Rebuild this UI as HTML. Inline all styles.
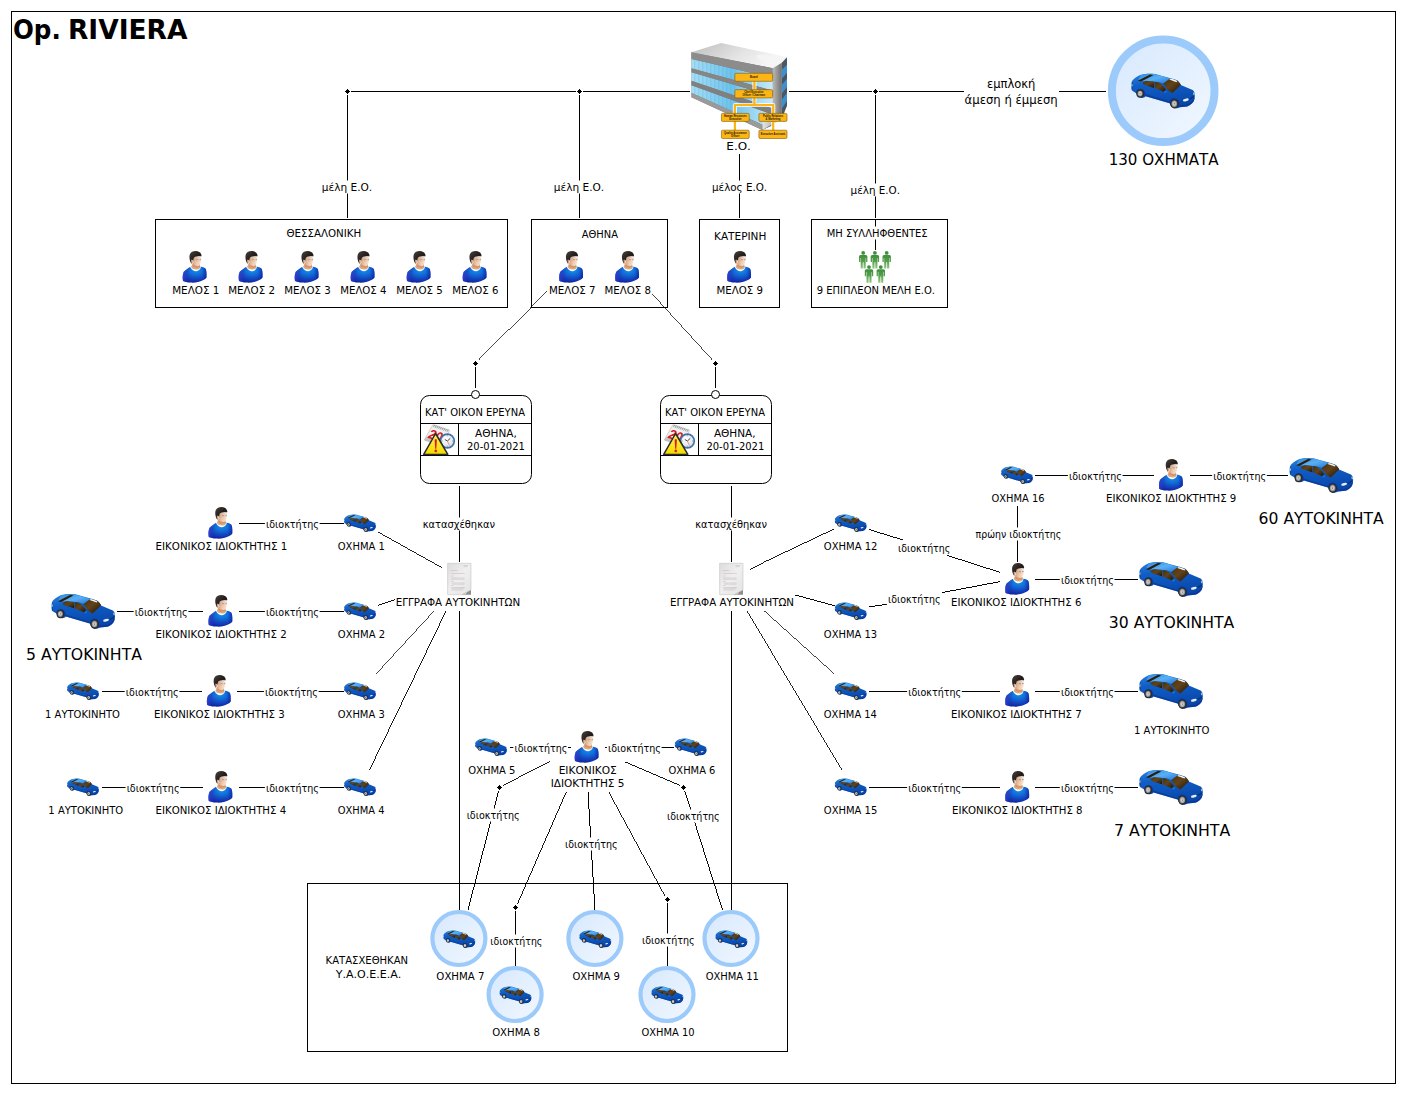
<!DOCTYPE html>
<html lang="el">
<head>
<meta charset="utf-8">
<title>Op. RIVIERA</title>
<style>
html,body{margin:0;padding:0;background:#fff;overflow:hidden}
svg{display:block}
text{white-space:pre}
</style>
</head>
<body>
<svg width="1405" height="1093" viewBox="0 0 1405 1093">

<defs>
<radialGradient id="gShirt" cx="0.56" cy="0.22" r="0.85">
 <stop offset="0" stop-color="#0c96ea"/><stop offset="0.4" stop-color="#1464d4"/><stop offset="0.8" stop-color="#1232ae"/><stop offset="1" stop-color="#0a1c98"/>
</radialGradient>
<linearGradient id="gShirtSide" x1="0" y1="0" x2="1" y2="0">
 <stop offset="0" stop-color="#3a44d8" stop-opacity="0.8"/><stop offset="0.3" stop-color="#1a2fb4" stop-opacity="0"/><stop offset="0.8" stop-color="#0b2aa0" stop-opacity="0"/><stop offset="1" stop-color="#0818a0" stop-opacity="0.6"/>
</linearGradient>
<linearGradient id="gFace" x1="0" y1="0" x2="1" y2="0.3">
 <stop offset="0" stop-color="#c79878"/><stop offset="0.5" stop-color="#ebc6aa"/><stop offset="1" stop-color="#f6e0d0"/>
</linearGradient>
<linearGradient id="gHair" x1="0" y1="0" x2="1" y2="1">
 <stop offset="0" stop-color="#4a423e"/><stop offset="0.5" stop-color="#221d1b"/><stop offset="1" stop-color="#2f2825"/>
</linearGradient>
<g id="person">
 <path d="M4,30 C3.4,27 3.6,23 4.8,20.8 C6.5,19 9,17.4 10.9,16.1 L22.1,15.8 C24,16 25.6,16.8 26.4,17.6 C27.4,19 27.7,22 27.5,26.6 C26,28.6 23,30 20,30.8 C17,31.6 14,31.8 11.6,31.6 C8.5,31.4 5.5,30.8 4,30 Z" fill="url(#gShirt)"/>
 <path d="M4,30 C3.4,27 3.6,23 4.8,20.8 C6.5,19 9,17.4 10.9,16.1 L22.1,15.8 C24,16 25.6,16.8 26.4,17.6 C27.4,19 27.7,22 27.5,26.6 C26,28.6 23,30 20,30.8 C17,31.6 14,31.8 11.6,31.6 C8.5,31.4 5.5,30.8 4,30 Z" fill="url(#gShirtSide)"/>
 <path d="M11.2,16 C12.8,19.2 15,20.3 16.8,20.3 C18.8,20.3 20.8,19.2 21.9,16.6 L21.3,15.4 L11.8,15.2 Z" fill="#fff"/>
 <path d="M13.8,11.6 L12.1,16.1 C13.6,19.3 19.8,19.5 21.3,16.4 L20.4,12.6 Z" fill="#e0a880"/>
 <path d="M14.2,13.6 C15.6,15.4 18.6,16 20.6,14.4 L20.9,16 C19,17 15.6,16.8 13.6,15.6 Z" fill="#c98a60" opacity="0.7"/>
 <ellipse cx="12.7" cy="10.5" rx="1.1" ry="2" fill="#d49c78"/>
 <path d="M14.6,6.2 C14.2,8 14.2,10.5 14.6,12.4 C15.4,14 17.5,15 19.2,14.9 C20.6,14.4 21.4,12.6 21.7,11 C22.2,9.4 22.3,8 22.1,6.6 C20,5.4 16.5,5.4 14.6,6.2 Z" fill="url(#gFace)"/>
 <path d="M17.3,8.9 C17.9,8.5 18.9,8.5 19.4,8.9 M20.6,8.7 C21.1,8.4 21.7,8.4 22.1,8.7" stroke="#7a5546" stroke-width="0.8" fill="none" opacity="0.65"/>
 <path d="M12.9,12.9 C12,12 11.2,10.6 10.8,9 C10.3,7 10.3,5 10.8,3.4 C11.8,1.2 14,0.1 16.6,0.1 C19.4,0.1 21.4,1.4 22.2,3.2 C22.6,4 22.6,4.8 22.3,5.4 C20,5.2 17,5.6 15,6.4 C14.6,7.6 14.4,8.8 14.3,9.8 C13.6,8.8 12.8,8.6 12.2,9 C11.8,10.4 12.4,12 12.9,12.9 Z" fill="url(#gHair)"/>
</g>

<linearGradient id="gCarBody" x1="0" y1="0" x2="0.25" y2="1">
 <stop offset="0" stop-color="#2a84e0"/><stop offset="0.35" stop-color="#0f5ec6"/><stop offset="0.7" stop-color="#0c52b8"/><stop offset="1" stop-color="#0a46a8"/>
</linearGradient>
<linearGradient id="gCarRoof" x1="0" y1="0" x2="1" y2="1">
 <stop offset="0" stop-color="#2a86e0"/><stop offset="0.5" stop-color="#5ab0f4"/><stop offset="1" stop-color="#1f78dc"/>
</linearGradient>
<linearGradient id="gGlass" x1="0" y1="0" x2="1" y2="1">
 <stop offset="0" stop-color="#42300f"/><stop offset="0.45" stop-color="#63441a"/><stop offset="1" stop-color="#1c1308"/>
</linearGradient>
<radialGradient id="gWheel" cx="0.5" cy="0.5" r="0.5">
 <stop offset="0" stop-color="#5a5a5a"/><stop offset="0.3" stop-color="#d4d4d4"/><stop offset="0.7" stop-color="#a4a4a4"/><stop offset="1" stop-color="#6a6a6a"/>
</radialGradient>
<g id="car">
 <path d="M1.4,7 C2.2,5.6 5,3.2 9,1.4 C13,0.2 18,-0.1 22.1,0.1 C25,0.4 27,1 28.5,1.6 L39.4,4.6 C42,5.2 45,6.2 46.6,7 C48,8.2 49.2,10 49.8,11.4 L61.6,16.5 C62.8,17.4 63.4,18.4 63.5,19.6 C63.9,21 63.9,22.4 63.7,23.4 C63.6,25.6 63,27.6 61.8,29 C60.4,30.8 58.4,32.2 56.1,32.8 L48.6,33.6 C47,35 43.4,35.2 41.4,33.6 C40,32.6 39,31 38.6,29.6 L14.6,22.6 C13.4,24.4 10.4,24.8 8.4,23.6 C6.8,22.6 5.4,20.8 4.9,19.3 L1,17 C0.4,16 0.3,14 0.3,12.2 C0.3,10.4 0.6,8.4 1.4,7 Z" fill="url(#gCarBody)"/>
 <path d="M9.6,1.6 C13,0.5 18,0.1 22.1,0.3 C25,0.6 27,1.2 28.5,1.8 L39.2,4.9 L32.6,10 C29,8.6 25,7.9 22,7.8 L15.6,7.2 L10.2,7.6 L7.2,6.8 Z" fill="url(#gCarRoof)"/>
 <path d="M1.2,16.6 L5,18.9 C5.4,17 7,15.4 9.2,15.2 C12,15 14.2,17.2 14.6,20.4 L38.6,28 C38.8,26 40.4,24.4 43,24.4 C46,24.4 48.4,27.2 48.6,31.6 L56,30.8 C59,30 61.6,27.6 62.6,24.6 L63.7,23.4 C63.6,25.6 63,27.6 61.8,29 C60.4,30.8 58.4,32.2 56.1,32.8 L48.6,33.6 L38.6,29.6 L14.6,22.6 L4.9,19.3 Z" fill="#08318c" opacity="0.55"/>
 <path d="M6.6,7.2 L19.2,0.8 L22.3,1.6 L10.2,8 Z" fill="#2c1f0c"/>
 <path d="M11.4,9.3 C12.6,8.2 14.2,7.4 15.7,7.3 L22.9,8 L23,14.3 L12.6,11 Z" fill="url(#gGlass)"/>
 <path d="M23.7,8.1 C25.6,8.2 27.4,8.7 28.7,9.4 C31.2,11.2 33.4,13.6 34.8,16 L33.2,18.4 L23.8,14.5 Z" fill="url(#gGlass)"/>
 <path d="M32.2,10 L39.2,4.9 C42,5.5 44.8,6.3 46.6,7.3 C48,8.5 49.2,10 49.9,11.5 L41.4,19.5 L37.2,17 Z" fill="url(#gGlass)"/>
 <path d="M38.3,5.9 L39.6,5 C42,5.6 44.4,6.4 46.2,7.4 L45.6,8.6 Z" fill="#f4f4f4"/>
 <path d="M32.6,18.4 C33.4,17.2 35,16.9 36,17.4 L35.6,19.2 C34.6,19.8 33.4,19.6 32.6,18.4 Z" fill="#1a6ad4"/>
 <path d="M0.9,8.4 L1.6,8 L1.8,15.6 L0.9,16 Z" fill="#0a2f86" opacity="0.6"/>
 <ellipse cx="9.3" cy="19.9" rx="3.9" ry="4.3" fill="#2a2a2e"/>
 <ellipse cx="9.1" cy="19.9" rx="2.7" ry="3.1" fill="url(#gWheel)"/>
 <ellipse cx="43.5" cy="30.1" rx="4.3" ry="4.8" fill="#2a2a2e"/>
 <ellipse cx="43.3" cy="30.1" rx="3" ry="3.5" fill="url(#gWheel)"/>
 <ellipse cx="54.8" cy="26.3" rx="3" ry="1.3" transform="rotate(-14 54.8 26.3)" fill="#e4ecf4"/>
 <path d="M58.6,25 L62.6,22.2 L62.8,23.4 L59,26.2 Z" fill="#0a2a78"/>
 <path d="M62.2,18.6 L63.3,19.6 L63.4,21.6 L62.4,20.8 Z" fill="#e8eef4"/>
 <path d="M0.5,10.6 L1.3,10.3 L1.5,12.6 L0.6,12.9 Z" fill="#e0e6f0"/>
</g>

<linearGradient id="gRing" x1="0" y1="0" x2="1" y2="1">
 <stop offset="0" stop-color="#d6e8fd"/><stop offset="1" stop-color="#f2f8ff"/>
</linearGradient>

<linearGradient id="gRoof" x1="0" y1="0" x2="1" y2="0.4">
 <stop offset="0" stop-color="#bdbdbd"/><stop offset="0.6" stop-color="#e4e4e4"/><stop offset="1" stop-color="#f6f6f6"/>
</linearGradient>
<linearGradient id="gWin" x1="0" y1="0" x2="1" y2="0">
 <stop offset="0" stop-color="#a6def6"/><stop offset="0.5" stop-color="#6cc2ea"/><stop offset="1" stop-color="#c8eaf8"/>
</linearGradient>
<linearGradient id="gWall" x1="0" y1="0" x2="1" y2="0">
 <stop offset="0" stop-color="#8a8a8a"/><stop offset="1" stop-color="#5e5e5e"/>
</linearGradient>
<linearGradient id="gPillar" x1="0" y1="0" x2="1" y2="0">
 <stop offset="0" stop-color="#e6e6e6"/><stop offset="0.6" stop-color="#b0b0b0"/><stop offset="1" stop-color="#707070"/>
</linearGradient>
<g id="building">
 <polygon points="1.6,9.4 31.4,0.2 97.2,14.5 82.9,25.4" fill="url(#gRoof)"/>
 <path d="M66,13 C72,10.5 82,12 97.2,14.5 L92,21 L82.9,25.4 C78,22 70,18 66,13 Z" fill="#f4f4f4" opacity="0.85"/>
 <polygon points="1.6,9.4 82.9,25.4 84,82 72.6,87.1 1.6,54.5" fill="url(#gWall)"/>
 <polygon points="1.6,16.2 83,35 83.2,48 1.6,25.4" fill="url(#gWin)"/>
 <polygon points="1.6,29.4 83.3,53.5 83.5,66 1.6,38" fill="url(#gWin)"/>
 <polygon points="1.6,42.5 83.6,72 72.6,82 1.6,50" fill="url(#gWin)"/>
 <g stroke="#4aa0d0" stroke-width="0.5" opacity="0.55">
  <path d="M5,16 V52 M9,17 V54 M13,18 V56 M17,19 V58 M21,20 V60 M25,21 V62 M29,22 V64 M33,23 V66 M37,24 V68 M41,25 V70 M45,26 V72"/>
 </g>
 <polygon points="1.6,25.4 83.2,48 83.3,53.5 1.6,29.4" fill="#868686"/>
 <polygon points="1.6,38 83.5,66 83.6,72 1.6,42.5" fill="#808080"/>
 <polygon points="1.6,9.4 82.9,25.4 83,35 1.6,16.2" fill="#8c8c8c"/>
 <polygon points="1.6,50 72.6,82 72.6,87.1 1.6,54.5" fill="#9a9a9a"/>
 <polygon points="82.9,25.4 92,20 92,76 72.6,87.1 72.6,80 83,74" fill="url(#gPillar)"/>
 <polygon points="92,20 97.2,14.5 97.2,63 92,76" fill="#4c5660"/>
 <polygon points="92,27 97.2,22 97.2,30 92,36" fill="#3f8fd0"/>
 <polygon points="92,42 97.2,36 97.2,44 92,51" fill="#3f8fd0"/>
 <polygon points="92,57 97.2,50 97.2,58 92,66" fill="#3f8fd0"/>
 <g fill="none" stroke="#fff" stroke-width="4.2" stroke-linejoin="round" opacity="0.8">
  <path d="M64.6,38 V62.2 M45.1,78 V62.2 H83.4 V78 M45.1,78 V88 M83.4,78 V88"/>
 </g>
 <g fill="none" stroke="#fdb515" stroke-width="2.2">
  <path d="M64.6,38 V62.2 M45.1,88 V62.2 H83.4 V88"/>
 </g>
 <g fill="#fdb515" stroke="#7a5a08" stroke-width="0.6">
  <rect x="45.1" y="30.5" width="37.8" height="8" rx="1.2"/>
  <rect x="45.1" y="46.9" width="37.8" height="8.2" rx="1.2"/>
  <rect x="31.6" y="70.6" width="27.8" height="8" rx="1.2"/>
  <rect x="69.1" y="70.6" width="28.1" height="8" rx="1.2"/>
  <rect x="31.6" y="87.4" width="27.8" height="8.3" rx="1.2"/>
  <rect x="69.1" y="87.4" width="28.1" height="8.3" rx="1.2"/>
 </g>
 <g font-family="Liberation Sans, sans-serif" font-size="2.6" font-weight="bold" fill="#1a1204" text-anchor="middle">
  <text x="64" y="35.4">Board</text>
  <text x="64" y="50.3">Chief Executive</text>
  <text x="64" y="53.2">Officer / Chairman</text>
  <text x="45.5" y="74">Human Resources</text>
  <text x="45.5" y="76.9">Executive</text>
  <text x="83.2" y="74">Public Relations</text>
  <text x="83.2" y="76.9">&amp; Marketing</text>
  <text x="45.5" y="90.9">Quality Assurance</text>
  <text x="45.5" y="93.8">Officer</text>
  <text x="83.2" y="92.5">Executive Assistant</text>
 </g>
</g>

<linearGradient id="gGreen" x1="0" y1="0" x2="0" y2="1">
 <stop offset="0" stop-color="#3f8f3c"/><stop offset="0.5" stop-color="#57a050"/><stop offset="1" stop-color="#8fca7e"/>
</linearGradient>
<g id="gman">
 <circle cx="0" cy="1.8" r="1.9" fill="#3f8f3c"/>
 <path d="M-2.6,4 H2.6 C3.6,4 4.2,4.8 4.2,5.8 V11 H2.9 V6.8 H2.5 V17.4 H0.4 V11.2 H-0.4 V17.4 H-2.5 V6.8 H-2.9 V11 H-4.2 V5.8 C-4.2,4.8 -3.6,4 -2.6,4 Z" fill="url(#gGreen)"/>
</g>
<g id="group">
 <use href="#gman" x="5.2" y="0.8"/>
 <use href="#gman" x="16.9" y="0.8"/>
 <use href="#gman" x="28.7" y="0.8"/>
 <use href="#gman" x="11" y="15"/>
 <use href="#gman" x="22.8" y="15"/>
</g>

<linearGradient id="gDoc" x1="0" y1="0" x2="1" y2="1">
 <stop offset="0" stop-color="#dcdcdc"/><stop offset="0.5" stop-color="#efefef"/><stop offset="1" stop-color="#e2e2e2"/>
</linearGradient>
<g id="doc">
 <path d="M0.3,0.3 H23.7 V27 L19,31.7 H0.3 Z" fill="url(#gDoc)" stroke="#c4c4c4" stroke-width="0.6"/>
 <path d="M23.7,27 L14.5,31.7 H19.5 L23.7,31.7 Z" fill="#8e8e8e"/>
 <path d="M23.7,26.5 C21,27.5 19.5,29 18.5,31.7 L14.5,31.7 C18,29.5 21,27.6 23.7,26.5 Z" fill="#c9c9c9"/>
 <g stroke="#e8a0c8" stroke-width="0.5"><path d="M3.5,7.5 H10 M4,13 H6 M4,18.5 H6 M4,22.5 H6"/></g>
 <g stroke="#bdbdbd" stroke-width="0.5"><path d="M16,2.5 H21 M16.5,3.6 H20.5 M4,10.5 H17.5 M4,15 H17.5 M4,16.2 H17 M5,20 H17.5 M5,21.2 H17 M4,24.5 H17.5 M4,25.7 H17 M4,27 H15"/></g>
</g>

<linearGradient id="gWarn" x1="0" y1="0" x2="0" y2="1">
 <stop offset="0" stop-color="#fff45a"/><stop offset="1" stop-color="#f4d800"/>
</linearGradient>
<radialGradient id="gClock" cx="0.4" cy="0.35" r="0.7">
 <stop offset="0" stop-color="#ffffff"/><stop offset="1" stop-color="#d8dce0"/>
</radialGradient>
<g id="event">
 <g transform="matrix(0.845 0.29 -0.467 0.85 9.8 0.4)">
  <rect x="0" y="0" width="20" height="18" fill="#f1f1f1" stroke="#bcbcbc" stroke-width="0.7"/>
  <rect x="0" y="14.5" width="20" height="3.5" fill="#9a9a9a" opacity="0.5"/>
  <path d="M2,-0.6 V2.2 M4,-0.6 V2.2 M6,-0.6 V2.2 M8,-0.6 V2.2 M10,-0.6 V2.2 M12,-0.6 V2.2 M14,-0.6 V2.2 M16,-0.6 V2.2 M18,-0.6 V2.2" stroke="#777" stroke-width="0.7"/>
  <text x="1.2" y="14.6" font-family="Liberation Sans, sans-serif" font-weight="bold" font-size="14" fill="#d8141c">20</text>
 </g>
 <circle cx="24.4" cy="16.7" r="6.9" fill="url(#gClock)" stroke="#3f70aa" stroke-width="1.6"/>
 <path d="M24.4,16.7 L27.3,14 M24.4,16.7 L21.8,15.2" stroke="#1c1c1c" stroke-width="0.8" fill="none"/>
 <path d="M24.4,16.7 L26.6,21.4" stroke="#e04040" stroke-width="0.5" fill="none"/>
 <g stroke="#555" stroke-width="0.5"><path d="M24.4,10.9 V12 M24.4,21.4 V22.5 M18.6,16.7 H19.7 M29.1,16.7 H30.2"/></g>
 <path d="M12.6,9.2 L24.8,30.1 H0.7 Z" fill="url(#gWarn)" stroke="#2a2a2a" stroke-width="1.5" stroke-linejoin="round"/>
 <path d="M11.6,15.2 C12.2,14.8 13.3,14.8 13.9,15.2 L13.3,24.4 H12.2 Z" fill="#de1a20"/>
 <circle cx="12.8" cy="26.6" r="1.3" fill="#de1a20"/>
</g>
</defs>

<g stroke="#000" stroke-width="1" fill="none" shape-rendering="crispEdges">
<rect x="11.5" y="11.5" width="1384" height="1072" fill="#fff"/>
<line x1="348" y1="91.5" x2="690" y2="91.5"/>
<line x1="789" y1="91.5" x2="1106" y2="91.5"/>
<line x1="347.5" y1="95" x2="347.5" y2="218"/>
<line x1="579.5" y1="95" x2="579.5" y2="218"/>
<line x1="739.5" y1="154" x2="739.5" y2="218"/>
<line x1="875.5" y1="95" x2="875.5" y2="218"/>
<rect x="155.5" y="219.5" width="352" height="88" fill="#fff"/>
<rect x="531.5" y="219.5" width="136" height="88" fill="#fff"/>
<rect x="699.5" y="219.5" width="80" height="88" fill="#fff"/>
<rect x="811.5" y="219.5" width="136" height="88" fill="#fff"/>
<line x1="875.5" y1="220" x2="875.5" y2="250"/>
<rect x="307.5" y="883.5" width="480" height="168" fill="#fff"/>
<line x1="546.7" y1="290.5" x2="479" y2="359.5" stroke-width="0.714"/>
<line x1="652.3" y1="294" x2="712" y2="359.5" stroke-width="0.739"/>
<line x1="475.5" y1="367" x2="475.5" y2="388"/>
<line x1="715.5" y1="367" x2="715.5" y2="388"/>
<rect x="420.5" y="395.5" width="111" height="88" rx="9" shape-rendering="auto" fill="#fff"/>
<line x1="420.5" y1="423.5" x2="531.5" y2="423.5"/>
<line x1="420.5" y1="455.5" x2="531.5" y2="455.5"/>
<line x1="458.5" y1="423.5" x2="458.5" y2="455.5"/>
<rect x="660.5" y="395.5" width="111" height="88" rx="9" shape-rendering="auto" fill="#fff"/>
<line x1="660.5" y1="423.5" x2="771.5" y2="423.5"/>
<line x1="660.5" y1="455.5" x2="771.5" y2="455.5"/>
<line x1="698.5" y1="423.5" x2="698.5" y2="455.5"/>
<circle cx="475.5" cy="394.5" r="4" fill="#fff" shape-rendering="auto"/>
<circle cx="715.5" cy="394.5" r="4" fill="#fff" shape-rendering="auto"/>
<line x1="459.5" y1="486" x2="459.5" y2="562"/>
<line x1="459.5" y1="611" x2="459.5" y2="910"/>
<line x1="731.5" y1="486" x2="731.5" y2="562"/>
<line x1="731.5" y1="611" x2="731.5" y2="910"/>
<line x1="239" y1="523.5" x2="344" y2="523.5"/>
<line x1="239" y1="611.5" x2="344" y2="611.5"/>
<line x1="237" y1="691.5" x2="344" y2="691.5"/>
<line x1="239" y1="787.5" x2="344" y2="787.5"/>
<line x1="116.5" y1="611.5" x2="203" y2="611.5"/>
<line x1="101.5" y1="691.5" x2="201.5" y2="691.5"/>
<line x1="101.5" y1="787.5" x2="203" y2="787.5"/>
<line x1="378" y1="532" x2="442" y2="567.7" stroke-width="0.873"/>
<line x1="378" y1="605.5" x2="395" y2="599.5" stroke-width="0.943"/>
<line x1="376.5" y1="673.5" x2="434" y2="611" stroke-width="0.736"/>
<line x1="369.5" y1="770" x2="446" y2="611" stroke-width="0.901"/>
<line x1="749.5" y1="569" x2="834" y2="529" stroke-width="0.904"/>
<line x1="794.5" y1="595" x2="834.5" y2="606" stroke-width="0.964"/>
<line x1="763.5" y1="611" x2="834" y2="674.5" stroke-width="0.743"/>
<line x1="747" y1="611" x2="842" y2="770" stroke-width="0.858"/>
<line x1="869" y1="529.5" x2="903" y2="540" stroke-width="0.955"/>
<line x1="946.5" y1="555.5" x2="999.5" y2="572.5" stroke-width="0.952"/>
<line x1="869" y1="607" x2="888" y2="604" stroke-width="0.988"/>
<line x1="941.5" y1="592.5" x2="999.5" y2="581.5" stroke-width="0.982"/>
<line x1="869" y1="691.5" x2="999.5" y2="691.5"/>
<line x1="869" y1="787.5" x2="999.5" y2="787.5"/>
<line x1="1035" y1="691.5" x2="1138" y2="691.5"/>
<line x1="1035" y1="787.5" x2="1138" y2="787.5"/>
<line x1="1035" y1="579.5" x2="1138" y2="579.5"/>
<line x1="1035" y1="475.5" x2="1153.5" y2="475.5"/>
<line x1="1189.5" y1="475.5" x2="1288" y2="475.5"/>
<line x1="1017.5" y1="506" x2="1017.5" y2="562"/>
<line x1="509.5" y1="747.5" x2="570.5" y2="747.5"/>
<line x1="604.5" y1="747.5" x2="674" y2="747.5"/>
<line x1="549.5" y1="761.5" x2="503" y2="785.5" stroke-width="0.889"/>
<line x1="498.5" y1="791" x2="468" y2="910" stroke-width="0.969"/>
<line x1="625.4" y1="762" x2="680" y2="785.5" stroke-width="0.919"/>
<line x1="684.8" y1="791" x2="722.5" y2="910" stroke-width="0.953"/>
<line x1="566" y1="791.5" x2="517" y2="904" stroke-width="0.917"/>
<line x1="515.5" y1="911" x2="515.5" y2="966"/>
<line x1="588" y1="791.5" x2="595" y2="910" stroke-width="0.998"/>
<line x1="609" y1="791.5" x2="665.5" y2="896" stroke-width="0.880"/>
<line x1="667.5" y1="903" x2="667.5" y2="966"/>
</g>
<g shape-rendering="crispEdges" stroke="none">
<rect x="344" y="88" width="7" height="7" fill="#fff"/>
<path d="M344.9,91.5 L347.5,88.9 L350.1,91.5 L347.5,94.1 Z" fill="#000"/>
<rect x="576" y="88" width="7" height="7" fill="#fff"/>
<path d="M576.9,91.5 L579.5,88.9 L582.1,91.5 L579.5,94.1 Z" fill="#000"/>
<rect x="872" y="88" width="7" height="7" fill="#fff"/>
<path d="M872.9,91.5 L875.5,88.9 L878.1,91.5 L875.5,94.1 Z" fill="#000"/>
<rect x="472" y="360" width="7" height="7" fill="#fff"/>
<path d="M472.9,363.5 L475.5,360.9 L478.1,363.5 L475.5,366.1 Z" fill="#000"/>
<rect x="712" y="360" width="7" height="7" fill="#fff"/>
<path d="M712.9,363.5 L715.5,360.9 L718.1,363.5 L715.5,366.1 Z" fill="#000"/>
<rect x="496" y="784" width="7" height="7" fill="#fff"/>
<path d="M496.9,787.5 L499.5,784.9 L502.1,787.5 L499.5,790.1 Z" fill="#000"/>
<rect x="680" y="784" width="7" height="7" fill="#fff"/>
<path d="M680.9,787.5 L683.5,784.9 L686.1,787.5 L683.5,790.1 Z" fill="#000"/>
<rect x="512" y="904" width="7" height="7" fill="#fff"/>
<path d="M512.9,907.5 L515.5,904.9 L518.1,907.5 L515.5,910.1 Z" fill="#000"/>
<rect x="664" y="896" width="7" height="7" fill="#fff"/>
<path d="M664.9,899.5 L667.5,896.9 L670.1,899.5 L667.5,902.1 Z" fill="#000"/>
</g>
<use href="#building" x="689.8" y="42.8"/>
<circle cx="1163.2" cy="90.7" r="51.3" fill="url(#gRing)" stroke="#9ccafa" stroke-width="8"/>
<use href="#car" x="1131" y="73.6"/>
<use href="#person" x="179" y="251"/>
<use href="#person" x="235" y="251"/>
<use href="#person" x="291" y="251"/>
<use href="#person" x="347" y="251"/>
<use href="#person" x="403" y="251"/>
<use href="#person" x="459" y="251"/>
<use href="#person" x="555.5" y="251"/>
<use href="#person" x="611.5" y="251"/>
<use href="#person" x="723.5" y="251"/>
<use href="#group" x="858" y="250.3"/>
<use href="#event" x="423" y="424.3"/>
<use href="#event" x="663" y="424.3"/>
<use href="#doc" x="447.3" y="563"/>
<use href="#doc" x="719.3" y="563"/>
<use href="#person" x="204.8" y="507"/>
<use href="#person" x="204.8" y="595"/>
<use href="#person" x="203.2" y="675"/>
<use href="#person" x="204.8" y="771"/>
<use href="#car" transform="translate(344,514.5) scale(0.5)"/>
<use href="#car" transform="translate(344,602.5) scale(0.5)"/>
<use href="#car" transform="translate(344,682.5) scale(0.5)"/>
<use href="#car" transform="translate(344,778.5) scale(0.5)"/>
<use href="#car" x="51.2" y="594"/>
<use href="#car" transform="translate(67,682.5) scale(0.5)"/>
<use href="#car" transform="translate(67,778.5) scale(0.5)"/>
<use href="#car" transform="translate(834.7,514.5) scale(0.5)"/>
<use href="#car" transform="translate(834.7,602.5) scale(0.5)"/>
<use href="#car" transform="translate(834.7,682.5) scale(0.5)"/>
<use href="#car" transform="translate(834.7,778.5) scale(0.5)"/>
<use href="#person" x="1001.6" y="563"/>
<use href="#person" x="1001.6" y="675"/>
<use href="#person" x="1001.6" y="771"/>
<use href="#car" x="1139" y="562"/>
<use href="#car" x="1139" y="674"/>
<use href="#car" x="1139" y="770"/>
<use href="#car" transform="translate(1001,466.5) scale(0.5)"/>
<use href="#person" x="1155.3" y="459"/>
<use href="#car" x="1289.3" y="458"/>
<use href="#person" x="571" y="731"/>
<use href="#car" transform="translate(475,738.5) scale(0.5)"/>
<use href="#car" transform="translate(674.7,738.5) scale(0.5)"/>
<circle cx="458.9" cy="938.5" r="26.5" fill="url(#gRing)" stroke="#9ccafa" stroke-width="4.2"/>
<use href="#car" transform="translate(443.3,930.5) scale(0.5)"/>
<circle cx="515.1" cy="994.5" r="26.5" fill="url(#gRing)" stroke="#9ccafa" stroke-width="4.2"/>
<use href="#car" transform="translate(499.5,986.5) scale(0.5)"/>
<circle cx="594.9" cy="938.5" r="26.5" fill="url(#gRing)" stroke="#9ccafa" stroke-width="4.2"/>
<use href="#car" transform="translate(579.3,930.5) scale(0.5)"/>
<circle cx="667" cy="994.5" r="26.5" fill="url(#gRing)" stroke="#9ccafa" stroke-width="4.2"/>
<use href="#car" transform="translate(651.4,986.5) scale(0.5)"/>
<circle cx="731" cy="938.5" r="26.5" fill="url(#gRing)" stroke="#9ccafa" stroke-width="4.2"/>
<use href="#car" transform="translate(715.4,930.5) scale(0.5)"/>
<g font-family='"DejaVu Sans Condensed","DejaVu Sans","Liberation Sans",sans-serif' font-size="11" fill="#000">
<text y="38.7" font-family='"DejaVu Sans","Liberation Sans",sans-serif' font-weight="bold" font-size="25.7"><tspan x="12.95" textLength="56.35" lengthAdjust="spacingAndGlyphs">Op. </tspan><tspan x="67.9" textLength="119.65" lengthAdjust="spacingAndGlyphs">RIVIERA</tspan></text>
<rect x="320.8" y="180.5" width="51.9" height="13" fill="#fff"/>
<text x="321.87" y="191" textLength="50.3" lengthAdjust="spacingAndGlyphs">μέλη Ε.Ο.</text>
<rect x="552.8" y="180.5" width="51.9" height="13" fill="#fff"/>
<text x="553.87" y="191" textLength="50.3" lengthAdjust="spacingAndGlyphs">μέλη Ε.Ο.</text>
<rect x="710.9" y="180.5" width="56.8" height="13" fill="#fff"/>
<text x="711.98" y="191" textLength="55.17" lengthAdjust="spacingAndGlyphs">μέλος Ε.Ο.</text>
<rect x="849.5" y="183.5" width="51.1" height="13" fill="#fff"/>
<text x="850.58" y="194" textLength="49.47" lengthAdjust="spacingAndGlyphs">μέλη Ε.Ο.</text>
<text x="726.36" y="150" textLength="24.53" lengthAdjust="spacingAndGlyphs">Ε.Ο.</text>
<rect x="964" y="76" width="95" height="32" fill="#fff"/>
<text x="986.95" y="88" textLength="48.4" lengthAdjust="spacingAndGlyphs" font-size="13">εμπλοκή</text>
<text x="964.54" y="104" textLength="93.22" lengthAdjust="spacingAndGlyphs" font-size="13">άμεση ή έμμεση</text>
<text x="1108.73" y="165" textLength="109.77" lengthAdjust="spacingAndGlyphs" font-size="16">130 ΟΧΗΜΑΤΑ</text>
<text x="286.47" y="237" textLength="74.78" lengthAdjust="spacingAndGlyphs">ΘΕΣΣΑΛΟΝΙΚΗ</text>
<text x="581.7" y="238" textLength="36.26" lengthAdjust="spacingAndGlyphs">ΑΘΗΝΑ</text>
<text x="713.99" y="240" textLength="52.38" lengthAdjust="spacingAndGlyphs">ΚΑΤΕΡΙΝΗ</text>
<rect x="825.8" y="226.5" width="102.7" height="13" fill="#fff"/>
<text x="826.73" y="237" textLength="100.85" lengthAdjust="spacingAndGlyphs">ΜΗ ΣΥΛΛΗΦΘΕΝΤΕΣ</text>
<text x="172.2" y="294" textLength="47.13" lengthAdjust="spacingAndGlyphs">ΜΕΛΟΣ 1</text>
<text x="228.21" y="294" textLength="46.8" lengthAdjust="spacingAndGlyphs">ΜΕΛΟΣ 2</text>
<text x="284.21" y="294" textLength="46.43" lengthAdjust="spacingAndGlyphs">ΜΕΛΟΣ 3</text>
<text x="340.22" y="294" textLength="46.25" lengthAdjust="spacingAndGlyphs">ΜΕΛΟΣ 4</text>
<text x="396.21" y="294" textLength="46.61" lengthAdjust="spacingAndGlyphs">ΜΕΛΟΣ 5</text>
<text x="452.22" y="294" textLength="46.25" lengthAdjust="spacingAndGlyphs">ΜΕΛΟΣ 6</text>
<text x="548.91" y="294" textLength="46.61" lengthAdjust="spacingAndGlyphs">ΜΕΛΟΣ 7</text>
<text x="604.51" y="294" textLength="46.43" lengthAdjust="spacingAndGlyphs">ΜΕΛΟΣ 8</text>
<text x="716.51" y="294" textLength="46.43" lengthAdjust="spacingAndGlyphs">ΜΕΛΟΣ 9</text>
<text x="816.78" y="294" textLength="118.23" lengthAdjust="spacingAndGlyphs">9 ΕΠΙΠΛΕΟΝ ΜΕΛΗ Ε.Ο.</text>
<text x="424.93" y="416" textLength="100.03" lengthAdjust="spacingAndGlyphs">ΚΑΤ' ΟΙΚΟΝ ΕΡΕΥΝΑ</text>
<text x="475.1" y="437" textLength="41.76" lengthAdjust="spacingAndGlyphs">ΑΘΗΝΑ,</text>
<text x="467.01" y="450" textLength="57.89" lengthAdjust="spacingAndGlyphs">20-01-2021</text>
<text x="664.93" y="416" textLength="100.03" lengthAdjust="spacingAndGlyphs">ΚΑΤ' ΟΙΚΟΝ ΕΡΕΥΝΑ</text>
<text x="713.9" y="437" textLength="41.76" lengthAdjust="spacingAndGlyphs">ΑΘΗΝΑ,</text>
<text x="706.41" y="450" textLength="57.89" lengthAdjust="spacingAndGlyphs">20-01-2021</text>
<rect x="421.7" y="517.5" width="74.5" height="13" fill="#fff"/>
<text x="422.64" y="528" textLength="72.43" lengthAdjust="spacingAndGlyphs">κατασχέθηκαν</text>
<rect x="694.3" y="517.5" width="73.9" height="13" fill="#fff"/>
<text x="695.25" y="528" textLength="71.82" lengthAdjust="spacingAndGlyphs">κατασχέθηκαν</text>
<text x="395.81" y="606" textLength="124.3" lengthAdjust="spacingAndGlyphs">ΕΓΓΡΑΦΑ ΑΥΤΟΚΙΝΗΤΩΝ</text>
<text x="670.01" y="606" textLength="123.99" lengthAdjust="spacingAndGlyphs">ΕΓΓΡΑΦΑ ΑΥΤΟΚΙΝΗΤΩΝ</text>
<text x="155.61" y="550" textLength="131.72" lengthAdjust="spacingAndGlyphs">ΕΙΚΟΝΙΚΟΣ ΙΔΙΟΚΤΗΤΗΣ 1</text>
<text x="337.78" y="550" textLength="47.12" lengthAdjust="spacingAndGlyphs">ΟΧΗΜΑ 1</text>
<text x="155.61" y="638" textLength="131.09" lengthAdjust="spacingAndGlyphs">ΕΙΚΟΝΙΚΟΣ ΙΔΙΟΚΤΗΤΗΣ 2</text>
<text x="337.78" y="638" textLength="47.3" lengthAdjust="spacingAndGlyphs">ΟΧΗΜΑ 2</text>
<text x="154.02" y="718" textLength="130.73" lengthAdjust="spacingAndGlyphs">ΕΙΚΟΝΙΚΟΣ ΙΔΙΟΚΤΗΤΗΣ 3</text>
<text x="337.78" y="718" textLength="46.94" lengthAdjust="spacingAndGlyphs">ΟΧΗΜΑ 3</text>
<text x="155.62" y="814" textLength="130.55" lengthAdjust="spacingAndGlyphs">ΕΙΚΟΝΙΚΟΣ ΙΔΙΟΚΤΗΤΗΣ 4</text>
<text x="337.78" y="814" textLength="46.77" lengthAdjust="spacingAndGlyphs">ΟΧΗΜΑ 4</text>
<rect x="264.9" y="517.5" width="54.7" height="13" fill="#fff"/>
<text x="266.04" y="528" textLength="52.85" lengthAdjust="spacingAndGlyphs">ιδιοκτήτης</text>
<rect x="264.9" y="605.5" width="54.7" height="13" fill="#fff"/>
<text x="266.04" y="616" textLength="52.85" lengthAdjust="spacingAndGlyphs">ιδιοκτήτης</text>
<rect x="263.9" y="685.5" width="54.7" height="13" fill="#fff"/>
<text x="265.04" y="696" textLength="52.85" lengthAdjust="spacingAndGlyphs">ιδιοκτήτης</text>
<rect x="264.9" y="781.5" width="54.7" height="13" fill="#fff"/>
<text x="266.04" y="792" textLength="52.85" lengthAdjust="spacingAndGlyphs">ιδιοκτήτης</text>
<rect x="133.7" y="605.5" width="54.7" height="13" fill="#fff"/>
<text x="134.84" y="616" textLength="52.85" lengthAdjust="spacingAndGlyphs">ιδιοκτήτης</text>
<rect x="124.7" y="685.5" width="54.7" height="13" fill="#fff"/>
<text x="125.84" y="696" textLength="52.85" lengthAdjust="spacingAndGlyphs">ιδιοκτήτης</text>
<rect x="125.5" y="781.5" width="54.7" height="13" fill="#fff"/>
<text x="126.64" y="792" textLength="52.85" lengthAdjust="spacingAndGlyphs">ιδιοκτήτης</text>
<text x="26.01" y="660" textLength="115.99" lengthAdjust="spacingAndGlyphs" font-size="16">5 ΑΥΤΟΚΙΝΗΤΑ</text>
<text x="45.06" y="718" textLength="74.84" lengthAdjust="spacingAndGlyphs">1 ΑΥΤΟΚΙΝΗΤΟ</text>
<text x="48.36" y="814" textLength="74.84" lengthAdjust="spacingAndGlyphs">1 ΑΥΤΟΚΙΝΗΤΟ</text>
<text x="823.83" y="550" textLength="53.6" lengthAdjust="spacingAndGlyphs">ΟΧΗΜΑ 12</text>
<text x="823.83" y="638" textLength="53.24" lengthAdjust="spacingAndGlyphs">ΟΧΗΜΑ 13</text>
<text x="823.83" y="718" textLength="53.07" lengthAdjust="spacingAndGlyphs">ΟΧΗΜΑ 14</text>
<text x="823.83" y="814" textLength="53.42" lengthAdjust="spacingAndGlyphs">ΟΧΗΜΑ 15</text>
<rect x="896.9" y="541.5" width="54.1" height="13" fill="#fff"/>
<text x="898.05" y="552" textLength="52.24" lengthAdjust="spacingAndGlyphs">ιδιοκτήτης</text>
<rect x="886.9" y="592.5" width="54.3" height="13" fill="#fff"/>
<text x="888.04" y="603" textLength="52.44" lengthAdjust="spacingAndGlyphs">ιδιοκτήτης</text>
<rect x="907.1" y="685.5" width="54.7" height="13" fill="#fff"/>
<text x="908.24" y="696" textLength="52.85" lengthAdjust="spacingAndGlyphs">ιδιοκτήτης</text>
<rect x="907.1" y="781.5" width="54.7" height="13" fill="#fff"/>
<text x="908.24" y="792" textLength="52.85" lengthAdjust="spacingAndGlyphs">ιδιοκτήτης</text>
<text x="951.02" y="606" textLength="130.35" lengthAdjust="spacingAndGlyphs">ΕΙΚΟΝΙΚΟΣ ΙΔΙΟΚΤΗΤΗΣ 6</text>
<rect x="1059.8" y="573.5" width="54.7" height="13" fill="#fff"/>
<text x="1060.94" y="584" textLength="52.85" lengthAdjust="spacingAndGlyphs">ιδιοκτήτης</text>
<text x="951.02" y="718" textLength="130.7" lengthAdjust="spacingAndGlyphs">ΕΙΚΟΝΙΚΟΣ ΙΔΙΟΚΤΗΤΗΣ 7</text>
<rect x="1059.8" y="685.5" width="54.7" height="13" fill="#fff"/>
<text x="1060.94" y="696" textLength="52.85" lengthAdjust="spacingAndGlyphs">ιδιοκτήτης</text>
<text x="952.02" y="814" textLength="130.52" lengthAdjust="spacingAndGlyphs">ΕΙΚΟΝΙΚΟΣ ΙΔΙΟΚΤΗΤΗΣ 8</text>
<rect x="1059.8" y="781.5" width="54.7" height="13" fill="#fff"/>
<text x="1060.94" y="792" textLength="52.85" lengthAdjust="spacingAndGlyphs">ιδιοκτήτης</text>
<text x="1108.81" y="628" textLength="125.39" lengthAdjust="spacingAndGlyphs" font-size="16">30 ΑΥΤΟΚΙΝΗΤΑ</text>
<text x="1133.95" y="734" textLength="75.45" lengthAdjust="spacingAndGlyphs">1 ΑΥΤΟΚΙΝΗΤΟ</text>
<text x="1113.91" y="836" textLength="116.3" lengthAdjust="spacingAndGlyphs" font-size="16">7 ΑΥΤΟΚΙΝΗΤΑ</text>
<text x="991.48" y="502" textLength="53.07" lengthAdjust="spacingAndGlyphs">ΟΧΗΜΑ 16</text>
<rect x="1067.9" y="469.5" width="54.7" height="13" fill="#fff"/>
<text x="1069.04" y="480" textLength="52.85" lengthAdjust="spacingAndGlyphs">ιδιοκτήτης</text>
<text x="1106.02" y="502" textLength="130.32" lengthAdjust="spacingAndGlyphs">ΕΙΚΟΝΙΚΟΣ ΙΔΙΟΚΤΗΤΗΣ 9</text>
<rect x="1212.1" y="469.5" width="54.7" height="13" fill="#fff"/>
<text x="1213.24" y="480" textLength="52.85" lengthAdjust="spacingAndGlyphs">ιδιοκτήτης</text>
<text x="1258.62" y="524" textLength="125.19" lengthAdjust="spacingAndGlyphs" font-size="16">60 ΑΥΤΟΚΙΝΗΤΑ</text>
<rect x="974.1" y="527.5" width="87.9" height="13" fill="#fff"/>
<text x="975.57" y="538" textLength="85.71" lengthAdjust="spacingAndGlyphs">πρώην ιδιοκτήτης</text>
<text x="558.68" y="774" textLength="58.14" lengthAdjust="spacingAndGlyphs">ΕΙΚΟΝΙΚΟΣ</text>
<text x="550.69" y="787" textLength="73.75" lengthAdjust="spacingAndGlyphs">ΙΔΙΟΚΤΗΤΗΣ 5</text>
<text x="468.28" y="774" textLength="47.12" lengthAdjust="spacingAndGlyphs">ΟΧΗΜΑ 5</text>
<text x="668.58" y="774" textLength="46.77" lengthAdjust="spacingAndGlyphs">ΟΧΗΜΑ 6</text>
<rect x="513.3" y="741.5" width="54.7" height="13" fill="#fff"/>
<text x="514.44" y="752" textLength="52.85" lengthAdjust="spacingAndGlyphs">ιδιοκτήτης</text>
<rect x="606.9" y="741.5" width="54.7" height="13" fill="#fff"/>
<text x="608.04" y="752" textLength="52.85" lengthAdjust="spacingAndGlyphs">ιδιοκτήτης</text>
<rect x="465.5" y="808.5" width="54.9" height="13" fill="#fff"/>
<text x="466.64" y="819" textLength="53.06" lengthAdjust="spacingAndGlyphs">ιδιοκτήτης</text>
<rect x="665.9" y="809.5" width="54.5" height="13" fill="#fff"/>
<text x="667.04" y="820" textLength="52.65" lengthAdjust="spacingAndGlyphs">ιδιοκτήτης</text>
<rect x="563.8" y="837.5" width="54.6" height="13" fill="#fff"/>
<text x="564.94" y="848" textLength="52.75" lengthAdjust="spacingAndGlyphs">ιδιοκτήτης</text>
<rect x="489.2" y="934.5" width="53.9" height="13" fill="#fff"/>
<text x="490.35" y="945" textLength="52.03" lengthAdjust="spacingAndGlyphs">ιδιοκτήτης</text>
<rect x="640.8" y="933.5" width="54.6" height="13" fill="#fff"/>
<text x="641.94" y="944" textLength="52.75" lengthAdjust="spacingAndGlyphs">ιδιοκτήτης</text>
<text x="325.63" y="964" textLength="82.46" lengthAdjust="spacingAndGlyphs">ΚΑΤΑΣΧΕΘΗΚΑΝ</text>
<text x="335.69" y="978" textLength="65.52" lengthAdjust="spacingAndGlyphs">Υ.Α.Ο.Ε.Ε.Α.</text>
<text x="436.37" y="980" textLength="48.15" lengthAdjust="spacingAndGlyphs">ΟΧΗΜΑ 7</text>
<text x="492.17" y="1036" textLength="47.76" lengthAdjust="spacingAndGlyphs">ΟΧΗΜΑ 8</text>
<text x="572.48" y="980" textLength="47.35" lengthAdjust="spacingAndGlyphs">ΟΧΗΜΑ 9</text>
<text x="641.38" y="1036" textLength="53.14" lengthAdjust="spacingAndGlyphs">ΟΧΗΜΑ 10</text>
<text x="705.68" y="980" textLength="53.21" lengthAdjust="spacingAndGlyphs">ΟΧΗΜΑ 11</text>
</g>
</svg>
</body>
</html>
